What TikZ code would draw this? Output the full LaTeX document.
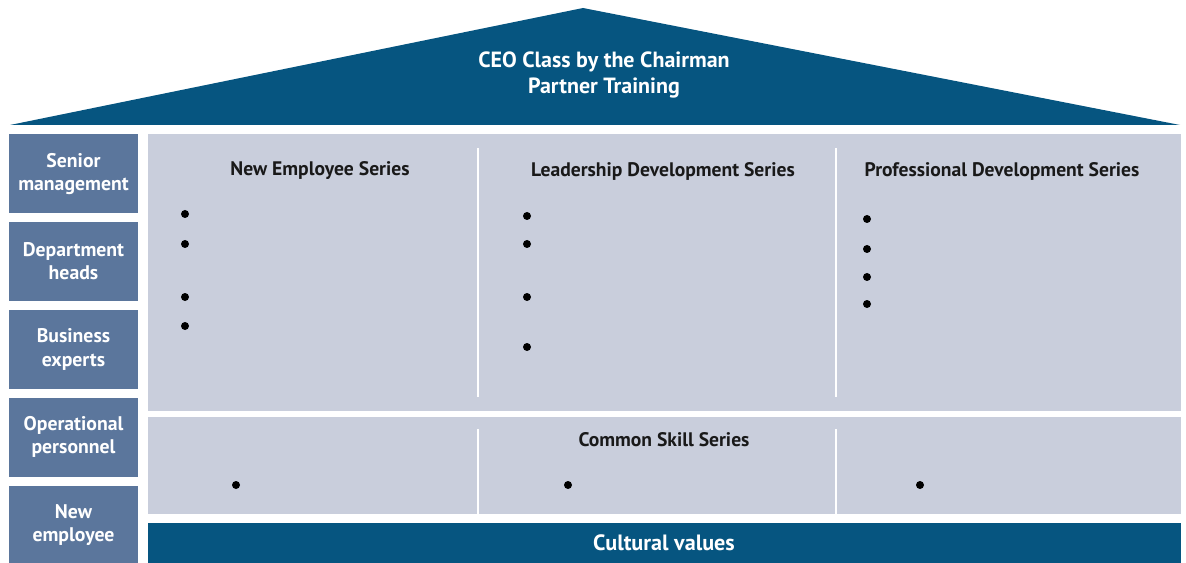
\documentclass[tikz,border=0pt]{standalone}
\usepackage{fontspec}
\setmainfont{PT Sans}
\usetikzlibrary{positioning}
\definecolor{roofblue}{RGB}{6,85,128}
\definecolor{levelblue}{RGB}{91,118,156}
\definecolor{panelgray}{RGB}{201,206,220}

\begin{document}
\begin{tikzpicture}[x=0.75pt, y=-0.75pt,
    levelbox/.style={fill=levelblue, text=white, font=\bfseries\fontsize{14.8}{17.3}\selectfont, align=center, minimum width=96.75pt, minimum height=59.5pt, inner sep=0pt},
    series/.style={font=\bfseries\fontsize{14.7}{17}\selectfont, text=black!90},
    bullet/.style={circle, fill=black, inner sep=0pt, minimum size=6pt},
    divider/.style={draw=white, line width=2.2pt}]
        \useasboundingbox (0,0) rectangle (1186,563);

        % Roof
        \fill[roofblue] (10,125) -- (583,8) -- (1180,125) -- cycle;
        \node[font=\bfseries\fontsize{16.5}{19.5}\selectfont, text=white, align=center] (ceo) at (604,75) {CEO Class by the Chairman\\Partner Training};

        % Staff levels
        \node[levelbox] (senior) at (73.5,173.7) {Senior\\management};
        \node[levelbox, below=6pt of senior] (heads) {Department\\heads};
        \node[levelbox, below=6pt of heads] (experts) {Business\\experts};
        \node[levelbox, below=6pt of experts] (operational) {Operational\\personnel};
        \node[levelbox, below=6pt of operational] (newemp) {New\\employee};

        % Series panel
        \fill[panelgray] (148,134) rectangle (1181,411);
        \draw[divider] (478,148) -- (478,397);
        \draw[divider] (836,148) -- (836,397);
        \node[series] (newseries) at (320,171) {New Employee Series};
        \node[series] (leadseries) at (663,171) {Leadership Development Series};
        \node[series] (profseries) at (1002,171) {Professional Development Series};

        \node[bullet] (n1) at (185,214) {};
        \node[bullet] (n2) at (185,244) {};
        \node[bullet] (n3) at (185,297) {};
        \node[bullet] (n4) at (185,326) {};

        \node[bullet] (l1) at (527,216) {};
        \node[bullet] (l2) at (527,244) {};
        \node[bullet] (l3) at (527,297) {};
        \node[bullet] (l4) at (527,347) {};

        \node[bullet] (p1) at (867,219) {};
        \node[bullet] (p2) at (867,249) {};
        \node[bullet] (p3) at (867,277) {};
        \node[bullet] (p4) at (867,304) {};

        % Common skill panel
        \fill[panelgray] (148,417) rectangle (1181,514);
        \draw[divider] (478,429) -- (478,514);
        \draw[divider] (836,429) -- (836,514);
        \node[series] (common) at (664,440) {Common Skill Series};
        \node[bullet] (c1) at (236,485) {};
        \node[bullet] (c2) at (568,485) {};
        \node[bullet] (c3) at (920,485) {};

        % Cultural values
        \fill[roofblue] (148,523) rectangle (1181,563);
        \node[font=\bfseries\fontsize{16.6}{19}\selectfont, text=white] (culture) at (664,543) {Cultural values};
\end{tikzpicture}
\end{document}
